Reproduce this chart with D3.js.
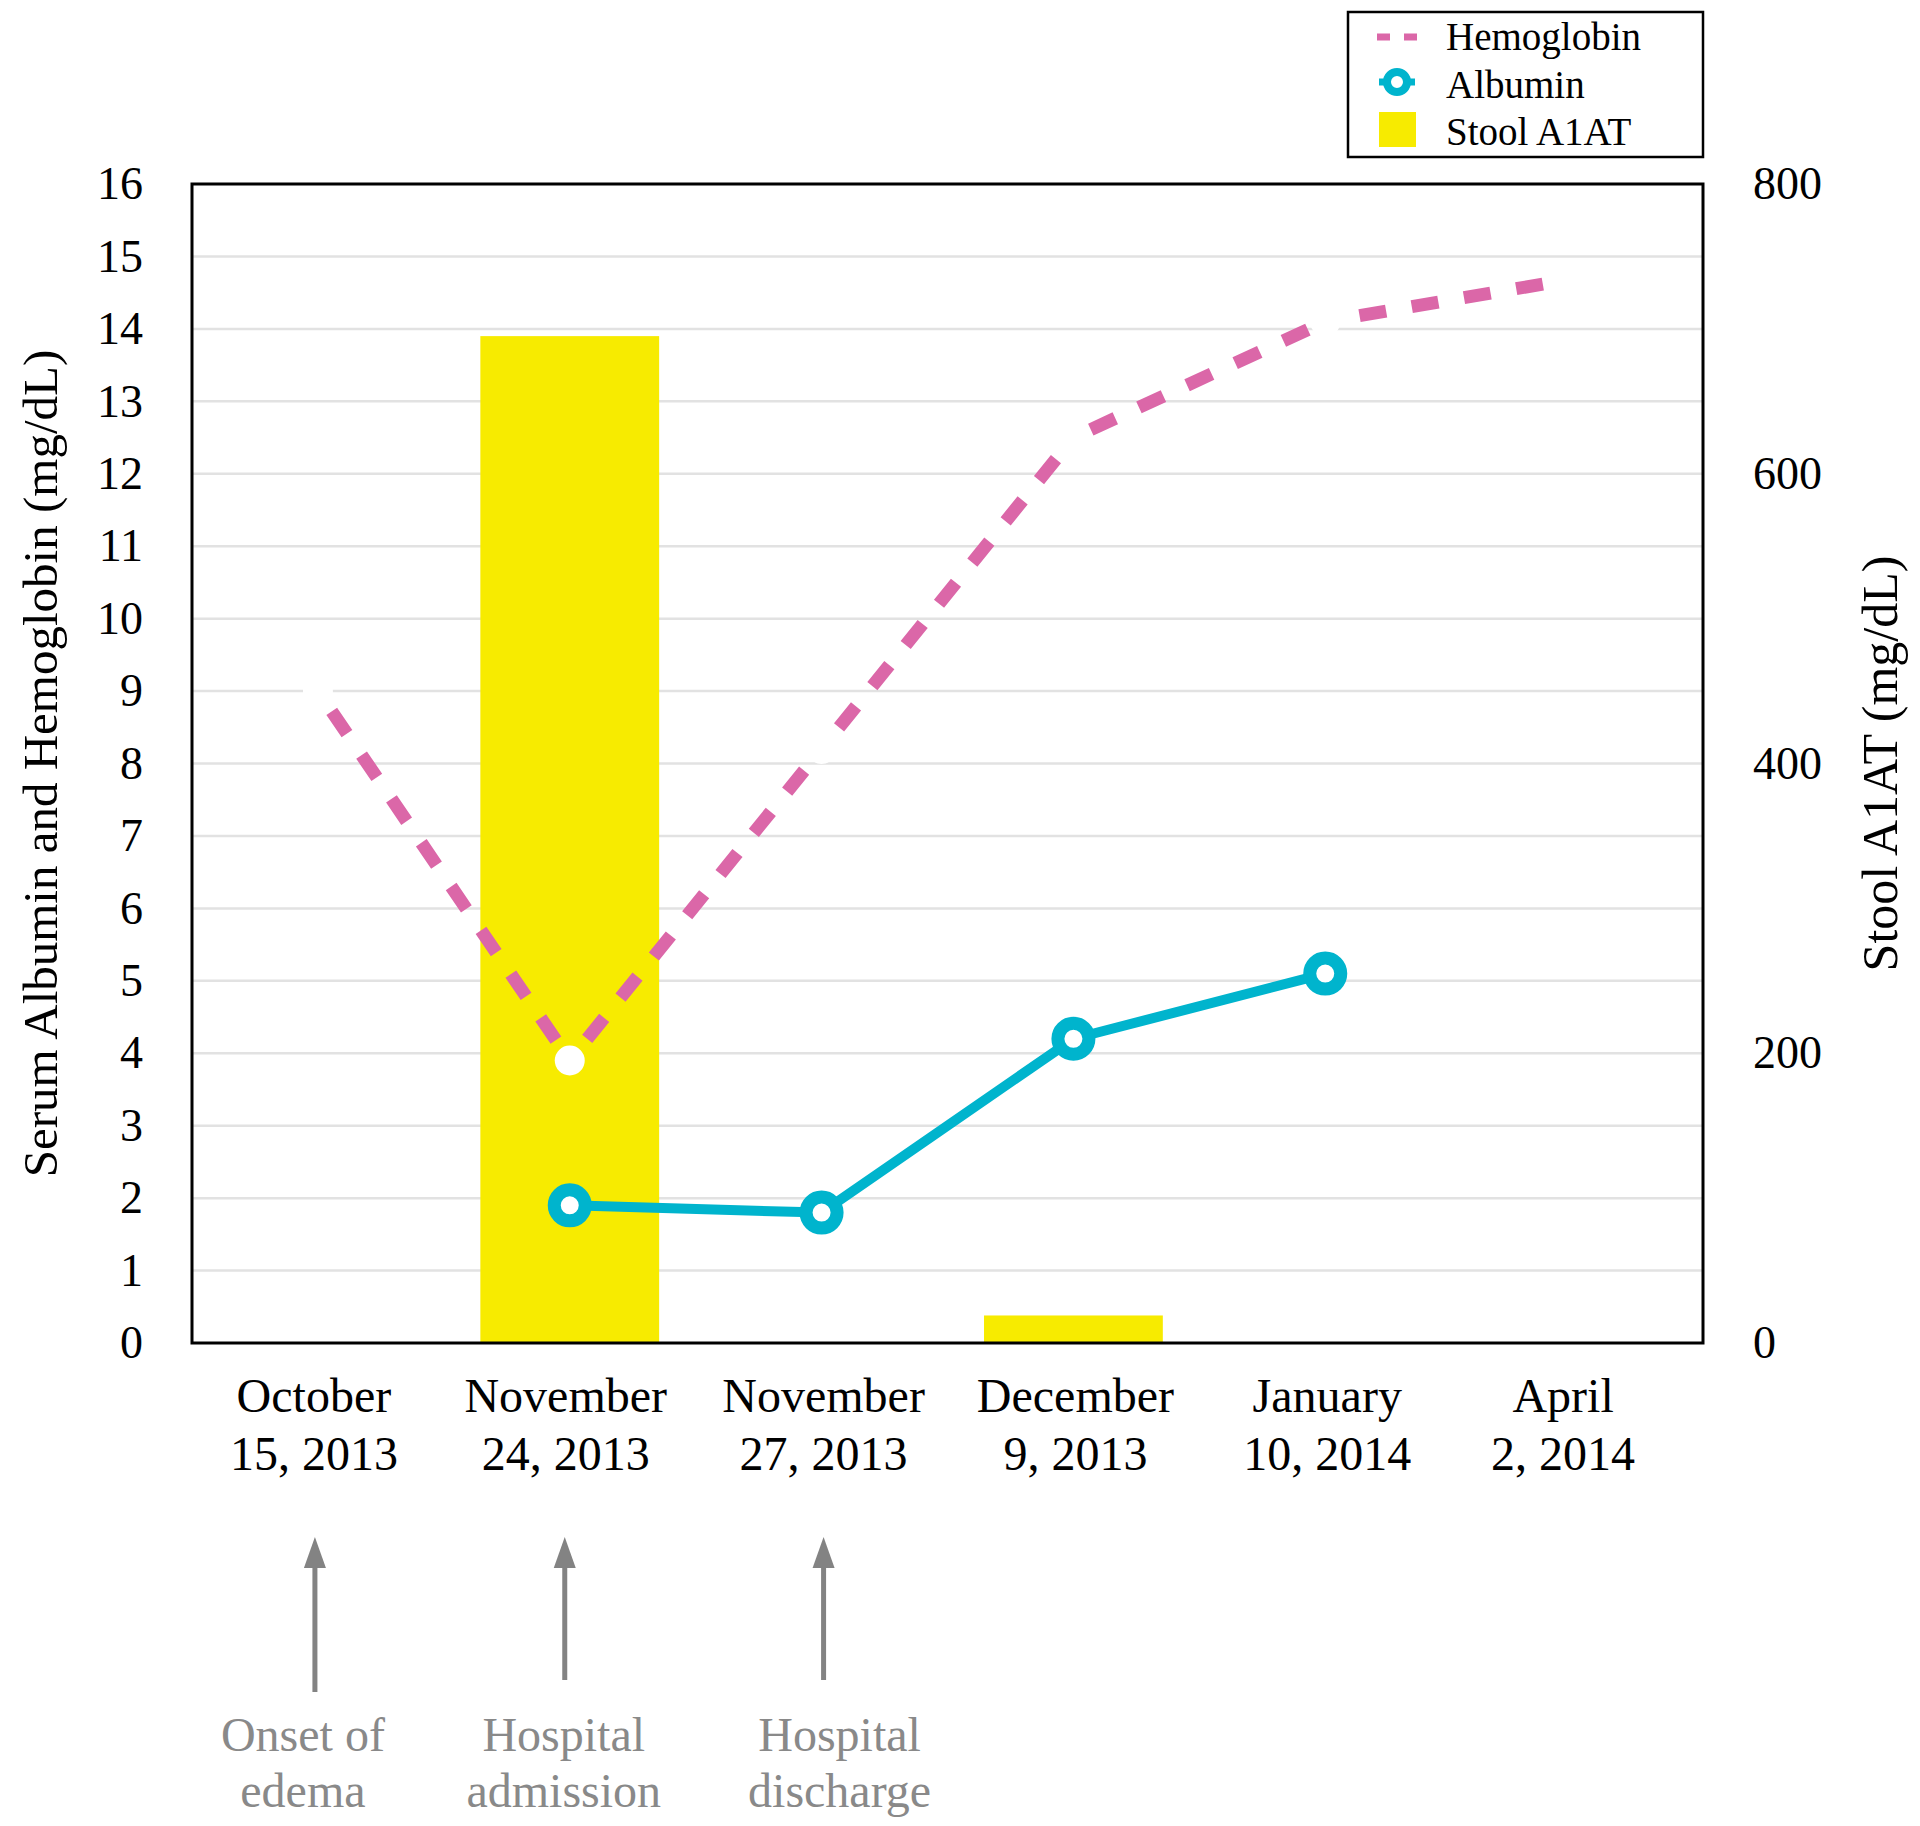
<!DOCTYPE html>
<html>
<head>
<meta charset="utf-8">
<script src="https://cdn.jsdelivr.net/npm/d3@7"></script>
<style>
  body { margin: 0; background: #fff; }
  svg { display: block; font-family: "Liberation Serif", "Times New Roman", serif; }
</style>
</head>
<body>
<div id="chart"></div>
<script>
// data
const dates = ["October 15, 2013", "November 24, 2013", "November 27, 2013",
               "December 9, 2013", "January 10, 2014", "April 2, 2014"]
const hemoglobin = [9.0, 3.9, 8.2, 12.5, 14.1, 14.7]
const albumin = [null, 1.9, 1.8, 4.2, 5.1, null]
const stoolA1AT = [null, 695, null, 19, null, null]
const leftTicks = [0, 1, 2, 3, 4, 5, 6, 7, 8, 9, 10, 11, 12, 13, 14, 15, 16]
const rightTicks = [0, 200, 400, 600, 800]
const eventDates = ["October 15, 2013", "November 24, 2013", "November 27, 2013"]
const eventLabels = [["Onset of", "edema"], ["Hospital", "admission"], ["Hospital", "discharge"]]

const W = 1920, H = 1826
const plot = { left: 192, right: 1703, top: 184, bottom: 1343 }

const pink = '#db67a8', teal = '#00b4cd', yellow = '#f7eb00', grey = '#838383'

const svg = d3.select('#chart').append('svg')
  .attr('width', W)
  .attr('height', H)

const x = d3.scaleBand()
  .domain(dates)
  .range([plot.left, plot.right])
  .paddingInner(0.29)
  .paddingOuter(0.145)
const cx = d => x(d) + x.bandwidth() / 2

const yLeft = d3.scaleLinear().domain([0, 16]).range([plot.bottom, plot.top])
const yRight = d3.scaleLinear().domain([0, 800]).range([plot.bottom, plot.top])

// gridlines
svg.append('g')
  .selectAll('line')
  .data(leftTicks.filter(t => t > 0 && t < 16))
  .join('line')
  .attr('x1', plot.left)
  .attr('x2', plot.right)
  .attr('y1', d => yLeft(d))
  .attr('y2', d => yLeft(d))
  .attr('stroke', '#e2e2e2')
  .attr('stroke-width', 2.5)

// stool A1AT bars (right axis)
const bars = dates.map((d, i) => ({ date: d, v: stoolA1AT[i] })).filter(d => d.v != null)
svg.append('g')
  .selectAll('rect')
  .data(bars)
  .join('rect')
  .attr('x', d => x(d.date))
  .attr('width', x.bandwidth())
  .attr('y', d => yRight(d.v))
  .attr('height', d => yRight(0) - yRight(d.v))
  .attr('fill', yellow)

// hemoglobin: white markers under a dashed line
const hemo = dates.map((d, i) => ({ date: d, v: hemoglobin[i] }))
const line = d3.line()
  .defined(d => d.v != null)
  .x(d => cx(d.date))
  .y(d => yLeft(d.v))

svg.append('g')
  .selectAll('circle')
  .data(hemo)
  .join('circle')
  .attr('cx', d => cx(d.date))
  .attr('cy', d => yLeft(d.v))
  .attr('r', 15)
  .attr('fill', '#fff')

// dash pattern restarts on every segment, centred so each end has a gap
const dash = 27, gap = 26
function segmentDashes([a, b]) {
  const L = Math.hypot(cx(b.date) - cx(a.date), yLeft(b.v) - yLeft(a.v))
  const n = Math.max(1, Math.floor(L / (dash + gap)))
  const end = (L - n * dash - (n - 1) * gap) / 2
  const arr = [0, end]
  for (let i = 0; i < n; i++) arr.push(dash, i < n - 1 ? gap : L)
  return arr.map(v => v.toFixed(2)).join(' ')
}
svg.append('g')
  .selectAll('path')
  .data(d3.pairs(hemo))
  .join('path')
  .attr('d', line)
  .attr('fill', 'none')
  .attr('stroke', pink)
  .attr('stroke-width', 13)
  .attr('stroke-dasharray', segmentDashes)

// albumin
const alb = dates.map((d, i) => ({ date: d, v: albumin[i] })).filter(d => d.v != null)
svg.append('path')
  .datum(alb)
  .attr('d', line)
  .attr('fill', 'none')
  .attr('stroke', teal)
  .attr('stroke-width', 10)
  .attr('stroke-linejoin', 'round')

svg.append('g')
  .selectAll('circle')
  .data(alb)
  .join('circle')
  .attr('cx', d => cx(d.date))
  .attr('cy', d => yLeft(d.v))
  .attr('r', 15.5)
  .attr('fill', '#fff')
  .attr('stroke', teal)
  .attr('stroke-width', 13)

// frame
svg.append('rect')
  .attr('x', plot.left)
  .attr('y', plot.top)
  .attr('width', plot.right - plot.left)
  .attr('height', plot.bottom - plot.top)
  .attr('fill', 'none')
  .attr('stroke', '#000')
  .attr('stroke-width', 3)

// axes
const axL = svg.append('g')
  .attr('transform', `translate(${plot.left},0)`)
  .call(d3.axisLeft(yLeft).tickValues(leftTicks).tickSize(0).tickPadding(49))
const axR = svg.append('g')
  .attr('transform', `translate(${plot.right},0)`)
  .call(d3.axisRight(yRight).tickValues(rightTicks).tickSize(0).tickPadding(50))
for (const ax of [axL, axR]) {
  ax.select('.domain').remove()
  ax.selectAll('text')
    .attr('font-family', '"Liberation Serif", serif')
    .attr('font-size', 46)
    .attr('fill', '#000')
}

// date labels sit a little off their points in the original
const labelNudge = [-4, -4, 2, 2, 2, -14]
const axB = svg.append('g')
  .attr('transform', `translate(0,${plot.bottom})`)
  .call(d3.axisBottom(x).tickSize(0).tickFormat(''))
axB.select('.domain').remove()
axB.selectAll('.tick text').remove()
axB.selectAll('.tick')
  .append('text')
  .attr('text-anchor', 'middle')
  .attr('font-family', '"Liberation Serif", serif')
  .attr('font-size', 48)
  .attr('fill', '#000')
  .each(function (d, i) {
    const k = d.indexOf(' ')
    const t = d3.select(this)
    t.append('tspan').attr('x', labelNudge[i]).attr('y', 69).text(d.slice(0, k))
    t.append('tspan').attr('x', labelNudge[i]).attr('y', 127).text(d.slice(k + 1))
  })

// axis titles
svg.append('text')
  .attr('transform', `translate(57,${(plot.top + plot.bottom) / 2}) rotate(-90)`)
  .attr('text-anchor', 'middle')
  .attr('font-size', 49)
  .text('Serum Albumin and Hemoglobin (mg/dL)')
svg.append('text')
  .attr('transform', `translate(1897,${(plot.top + plot.bottom) / 2}) rotate(-90)`)
  .attr('text-anchor', 'middle')
  .attr('font-size', 50)
  .text('Stool A1AT (mg/dL)')

// event arrows and notes
const arrowBottom = [1692, 1680, 1680]
const arrowShift = [-3, -5, 2]
const labelShift = [-12, -1, 16]
const ev = svg.append('g')
eventDates.forEach((d, i) => {
  const ax = cx(d) + arrowShift[i]
  ev.append('line')
    .attr('x1', ax).attr('x2', ax)
    .attr('y1', 1560).attr('y2', arrowBottom[i])
    .attr('stroke', grey)
    .attr('stroke-width', 5)
  ev.append('path')
    .attr('d', d3.line()([[ax, 1537], [ax - 11, 1568], [ax + 11, 1568]]) + 'Z')
    .attr('fill', grey)
  const t = ev.append('text')
    .attr('text-anchor', 'middle')
    .attr('font-size', 48)
    .attr('fill', '#898989')
  eventLabels[i].forEach((s, j) => {
    t.append('tspan').attr('x', ax + labelShift[i]).attr('y', 1751 + j * 56).text(s)
  })
})

// legend
const lg = svg.append('g')
lg.append('rect')
  .attr('x', 1348).attr('y', 12)
  .attr('width', 355).attr('height', 145)
  .attr('fill', '#fff')
  .attr('stroke', '#000')
  .attr('stroke-width', 2.5)
lg.append('line')
  .attr('x1', 1377).attr('x2', 1418)
  .attr('y1', 37).attr('y2', 37)
  .attr('stroke', pink)
  .attr('stroke-width', 7)
  .attr('stroke-dasharray', '13 14')
lg.append('line')
  .attr('x1', 1379).attr('x2', 1415)
  .attr('y1', 82).attr('y2', 82)
  .attr('stroke', teal)
  .attr('stroke-width', 7)
lg.append('circle')
  .attr('cx', 1397).attr('cy', 82).attr('r', 10)
  .attr('fill', '#fff')
  .attr('stroke', teal)
  .attr('stroke-width', 8)
lg.append('rect')
  .attr('x', 1379).attr('y', 112)
  .attr('width', 37).attr('height', 35)
  .attr('fill', yellow)
const legendNames = ['Hemoglobin', 'Albumin', 'Stool A1AT']
lg.selectAll('text.name')
  .data(legendNames)
  .join('text')
  .attr('class', 'name')
  .attr('x', 1446)
  .attr('y', (d, i) => 50 + i * 47.5)
  .attr('font-size', 39)
  .text(d => d)
</script>
</body>
</html>
